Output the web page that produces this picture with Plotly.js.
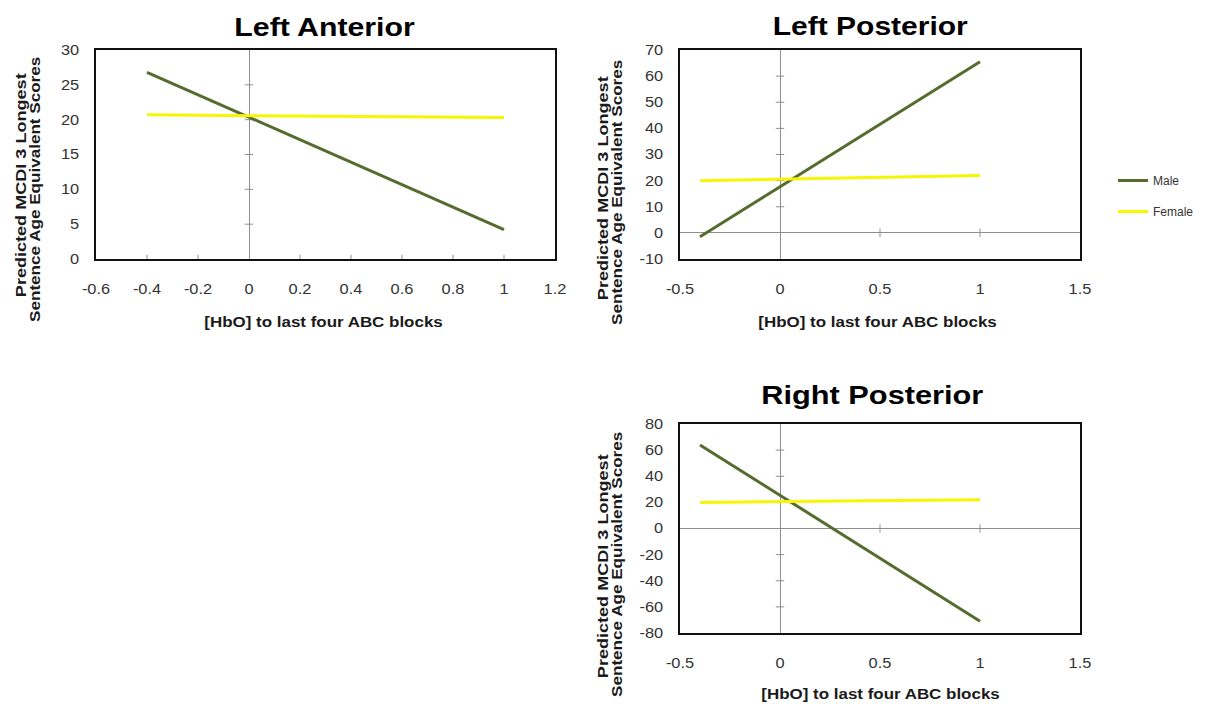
<!DOCTYPE html>
<html>
<head>
<meta charset="utf-8">
<script src="https://cdn.plot.ly/plotly-3.0.1.min.js"></script>
<style>
  html, body { margin: 0; padding: 0; background: #fff; }
  #chart { width: 1214px; height: 704px; }
</style>
</head>
<body>
<div id="chart"></div>
<script>
// Predicted MCDI 3 scores against [HbO], by sex, for three regions
const hbo = [-0.4, 1];

const leftAntMale = [26.8, 4.2];
const leftAntFemale = [20.7, 20.3];

const leftPostMale = [-1.5, 65.5];
const leftPostFemale = [20.0, 22.0];

const rightPostMale = [64, -71];
const rightPostFemale = [20.0, 22.0];

const panelTitles = ['Left Anterior', 'Left Posterior', 'Right Posterior'];
const seriesNames = ['Male', 'Female'];
const yTitleLines = ['Predicted MCDI 3 Longest', 'Sentence Age Equivalent Scores'];
const xTitle = '[HbO] to last four ABC blocks';

const leftAntXTicks = [-0.6, -0.4, -0.2, 0, 0.2, 0.4, 0.6, 0.8, 1, 1.2];
const leftAntXLabels = ['-0.6', '-0.4', '-0.2', '0', '0.2', '0.4', '0.6', '0.8', '1', '1.2'];
const leftAntYTicks = [0, 5, 10, 15, 20, 25, 30];
const leftAntYLabels = ['0', '5', '10', '15', '20', '25', '30'];
const postXTicks = [-0.5, 0, 0.5, 1, 1.5];
const postXLabels = ['-0.5', '0', '0.5', '1', '1.5'];
const leftPostYTicks = [-10, 0, 10, 20, 30, 40, 50, 60, 70];
const leftPostYLabels = ['-10', '0', '10', '20', '30', '40', '50', '60', '70'];
const rightPostYTicks = [-80, -60, -40, -20, 0, 20, 40, 60, 80];
const rightPostYLabels = ['-80', '-60', '-40', '-20', '0', '20', '40', '60', '80'];

const MALE = '#566b2e';
const FEMALE = '#f6f602';
const AXIS_GREY = '#8f8f8f';
const W = 1214, H = 704;
const FONT = 'Liberation Sans, Arial, sans-serif';

const panels = [
  { male: leftAntMale, female: leftAntFemale, xa: 'x', ya: 'y',
    xt: leftAntXTicks, yt: leftAntYTicks, xr: [-0.6, 1.2], yr: [0, 30] },
  { male: leftPostMale, female: leftPostFemale, xa: 'x2', ya: 'y2',
    xt: postXTicks, yt: leftPostYTicks, xr: [-0.5, 1.5], yr: [-10, 70] },
  { male: rightPostMale, female: rightPostFemale, xa: 'x3', ya: 'y3',
    xt: postXTicks, yt: rightPostYTicks, xr: [-0.5, 1.5], yr: [-80, 80] }
];

const traces = [];
panels.forEach((p, i) => {
  // small tick marks along the axes that cross at zero
  const xm = p.xt.filter(v => v !== 0 && v !== p.xr[0] && v !== p.xr[1]);
  const ym = p.yt.filter(v => v !== 0 && v !== p.yr[0] && v !== p.yr[1]);
  traces.push({
    x: xm, y: xm.map(() => 0),
    xaxis: p.xa, yaxis: p.ya, mode: 'markers', showlegend: false, hoverinfo: 'skip',
    marker: { symbol: 'line-ns-open', size: 6, color: AXIS_GREY, line: { color: AXIS_GREY, width: 1 } }
  });
  traces.push({
    x: ym.map(() => 0), y: ym,
    xaxis: p.xa, yaxis: p.ya, mode: 'markers', showlegend: false, hoverinfo: 'skip',
    marker: { symbol: 'line-ew-open', size: 6, color: AXIS_GREY, line: { color: AXIS_GREY, width: 1 } }
  });
  traces.push({
    x: hbo, y: p.male, xaxis: p.xa, yaxis: p.ya, mode: 'lines', name: seriesNames[0],
    legendgroup: 'male', showlegend: i === 0,
    line: { color: MALE, width: 3 }
  });
  traces.push({
    x: hbo, y: p.female, xaxis: p.xa, yaxis: p.ya, mode: 'lines', name: seriesNames[1],
    legendgroup: 'female', showlegend: i === 0,
    line: { color: FEMALE, width: 3 }
  });
});

function px(x) { return x / W; }
function py(y) { return 1 - y / H; }

const tickFont = { family: FONT, size: 14, color: '#333' };
function xaxis(domain, range, ticks, labels, anchor) {
  return {
    domain: domain, range: range, tickvals: ticks, ticktext: labels, ticks: '', showgrid: false,
    zeroline: true, zerolinecolor: AXIS_GREY, zerolinewidth: 1,
    showline: true, mirror: true, linecolor: '#111', linewidth: 2,
    tickfont: tickFont, ticklabelstandoff: 16, anchor: anchor, fixedrange: true
  };
}
function yaxis(domain, range, ticks, labels, anchor) {
  return {
    domain: domain, range: range, tickvals: ticks, ticktext: labels, ticks: '', showgrid: false,
    zeroline: true, zerolinecolor: AXIS_GREY, zerolinewidth: 1,
    showline: true, mirror: true, linecolor: '#111', linewidth: 2,
    tickfont: tickFont, ticklabelstandoff: 12, anchor: anchor, fixedrange: true
  };
}

const topY = [py(259), py(50)];
const botY = [py(633), py(424)];
const leftX = [px(96), px(555)];
const rightX = [px(680), px(1080)];

// annotation texts, each with the horizontal widening applied to its glyphs
const annotations = [];
const widen = [];
function note(text, cx, cy, size, angle, color, factor) {
  annotations.push({ text: text, x: px(cx), y: py(cy), xref: 'paper', yref: 'paper',
    showarrow: false, xanchor: 'center', yanchor: 'middle', textangle: angle,
    font: { family: FONT, size: size, color: color, weight: 'bold' } });
  widen.push(factor);
}
note(panelTitles[0], 324, 27, 25, 0, '#000', 1.21);
note(panelTitles[1], 871, 26, 25, 0, '#000', 1.2);
note(panelTitles[2], 872, 395, 25, 0, '#000', 1.23);
note(xTitle, 323, 322, 14, 0, '#1a1a1a', 1.21);
note(xTitle, 877, 322, 14, 0, '#1a1a1a', 1.21);
note(xTitle, 880, 694, 14, 0, '#1a1a1a', 1.21);
note(yTitleLines[0], 21, 185, 14, -90, '#1a1a1a', 1.29);
note(yTitleLines[1], 35, 189, 14, -90, '#1a1a1a', 1.22);
note(yTitleLines[0], 603, 188, 14, -90, '#1a1a1a', 1.29);
note(yTitleLines[1], 617, 192, 14, -90, '#1a1a1a', 1.22);
note(yTitleLines[0], 603, 566, 14, -90, '#1a1a1a', 1.29);
note(yTitleLines[1], 617, 564, 14, -90, '#1a1a1a', 1.22);

const layout = {
  width: W, height: H,
  margin: { l: 0, r: 0, t: 0, b: 0 },
  paper_bgcolor: '#fff', plot_bgcolor: '#fff',
  font: { family: FONT },
  showlegend: true,
  legend: {
    x: px(1113), y: py(166), xanchor: 'left', yanchor: 'top',
    font: { family: FONT, size: 12, color: '#333' },
    traceorder: 'grouped', tracegroupgap: 12, bgcolor: 'rgba(0,0,0,0)', itemwidth: 30
  },
  xaxis: xaxis(leftX, [-0.6, 1.2], leftAntXTicks, leftAntXLabels, 'y'),
  yaxis: yaxis(topY, [0, 30], leftAntYTicks, leftAntYLabels, 'x'),
  xaxis2: xaxis(rightX, [-0.5, 1.5], postXTicks, postXLabels, 'y2'),
  yaxis2: yaxis(topY, [-10, 70], leftPostYTicks, leftPostYLabels, 'x2'),
  xaxis3: xaxis(rightX, [-0.5, 1.5], postXTicks, postXLabels, 'y3'),
  yaxis3: yaxis(botY, [-80, 80], rightPostYTicks, rightPostYLabels, 'x3'),
  annotations: annotations
};

function stretchText(el, factor) {
  const len = el.getComputedTextLength();
  if (!len) return;
  el.setAttribute('textLength', (len * factor).toFixed(1));
  el.setAttribute('lengthAdjust', 'spacingAndGlyphs');
}

Plotly.newPlot('chart', traces, layout, { displayModeBar: false, staticPlot: true }).then(gd => {
  gd.querySelectorAll('g.annotation').forEach(g => {
    const i = +g.getAttribute('data-index');
    const t = g.querySelector('text.annotation-text');
    if (t && widen[i]) stretchText(t, widen[i]);
  });
  gd.querySelectorAll('g.xtick text, g.ytick text, g.x2tick text, g.y2tick text, g.x3tick text, g.y3tick text')
    .forEach(t => stretchText(t, 1.17));
});
</script>
</body>
</html>
